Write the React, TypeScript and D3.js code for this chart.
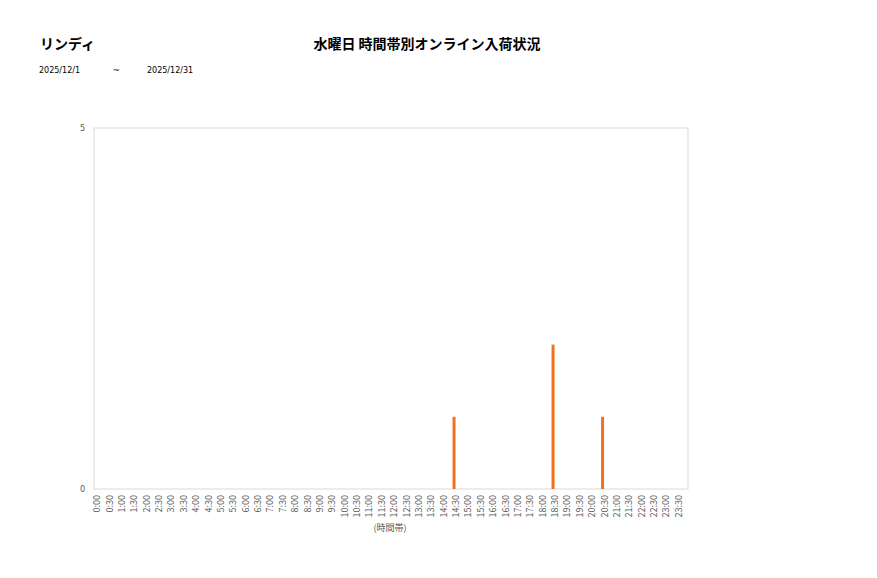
import React, { useEffect, useRef } from 'react';
import * as d3 from 'd3';

// time slots 0:00 .. 23:30
const slots: string[] = [
  '0:00', '0:30', '1:00', '1:30', '2:00', '2:30', '3:00', '3:30', '4:00', '4:30', '5:00', '5:30',
  '6:00', '6:30', '7:00', '7:30', '8:00', '8:30', '9:00', '9:30', '10:00', '10:30', '11:00', '11:30',
  '12:00', '12:30', '13:00', '13:30', '14:00', '14:30', '15:00', '15:30', '16:00', '16:30', '17:00', '17:30',
  '18:00', '18:30', '19:00', '19:30', '20:00', '20:30', '21:00', '21:30', '22:00', '22:30', '23:00', '23:30',
];

// arrivals per slot
const arrivals: number[] = [
  0, 0, 0, 0, 0, 0, 0, 0, 0, 0, 0, 0,
  0, 0, 0, 0, 0, 0, 0, 0, 0, 0, 0, 0,
  0, 0, 0, 0, 0, 1, 0, 0, 0, 0, 0, 0,
  0, 2, 0, 0, 0, 1, 0, 0, 0, 0, 0, 0,
];

const yTicks: number[] = [0, 5];

const storeName = 'リンディ';
const chartTitle = '水曜日 時間帯別オンライン入荷状況';
const dateFrom = '2025/12/1';
const dateTo = '2025/12/31';
const xAxisTitle = '(時間帯)';

const font = '"Noto Sans CJK JP", "Noto Sans", sans-serif';
const smallFont = '"DejaVu Sans", "Noto Sans", sans-serif';

const App = () => {
  const ref = useRef<SVGSVGElement>(null);

  useEffect(() => {
    draw();
  });

  const draw = () => {
    const svg = d3.select(ref.current);
    svg.selectAll('*').remove();

    const left = 94;
    const right = 688;
    const top = 128;
    const bottom = 489;

    const x = d3.scaleBand<string>().domain(slots).range([left, right]);
    const y = d3.scaleLinear().domain([0, 5]).range([bottom, top]);

    // header
    svg.append('text')
      .attr('x', 40).attr('y', 49)
      .attr('font-size', 14).attr('font-weight', 'bold').attr('font-family', font).attr('fill', '#000')
      .text(storeName);
    svg.append('text')
      .attr('x', 427).attr('y', 49)
      .attr('text-anchor', 'middle')
      .attr('font-size', 14).attr('font-weight', 'bold').attr('font-family', font).attr('fill', '#000')
      .text(chartTitle);
    svg.append('text')
      .attr('x', 39).attr('y', 73)
      .attr('font-size', 8).attr('font-family', smallFont).attr('fill', '#000')
      .text(dateFrom);
    svg.append('text')
      .attr('x', 113).attr('y', 73)
      .attr('font-size', 8).attr('font-family', smallFont).attr('fill', '#000')
      .text('~');
    svg.append('text')
      .attr('x', 147).attr('y', 73)
      .attr('font-size', 8).attr('font-family', smallFont).attr('fill', '#000')
      .text(dateTo);

    // plot frame
    svg.append('rect')
      .attr('x', left).attr('y', top)
      .attr('width', right - left).attr('height', bottom - top)
      .attr('fill', '#fff').attr('stroke', '#d9d9d9').attr('stroke-width', 1);

    // y ticks
    svg.append('g')
      .selectAll('text')
      .data(yTicks)
      .enter()
      .append('text')
      .attr('x', 85)
      .attr('y', (d) => y(d))
      .attr('dy', '0.35em')
      .attr('text-anchor', 'end')
      .attr('font-size', 8).attr('font-family', smallFont).attr('fill', '#595959')
      .text((d) => d);

    // bars
    const barW = 3;
    svg.append('g')
      .selectAll('rect')
      .data(arrivals.map((v, i) => ({ slot: slots[i], v })).filter((d) => d.v > 0))
      .enter()
      .append('rect')
      .attr('x', (d) => (x(d.slot) || 0) + x.bandwidth() / 2 - barW / 2 - 5)
      .attr('y', (d) => y(d.v))
      .attr('width', barW)
      .attr('height', (d) => bottom - y(d.v))
      .attr('fill', '#f0711e');

    // x labels
    svg.append('g')
      .selectAll('text')
      .data(slots)
      .enter()
      .append('text')
      .attr('transform', (d) => `translate(${(x(d) || 0) + x.bandwidth() / 2},${bottom + 6}) rotate(-90)`)
      .attr('text-anchor', 'end')
      .attr('font-size', 9).attr('font-family', font).attr('fill', '#595959')
      .text((d) => d);

    svg.append('text')
      .attr('x', 390).attr('y', 531)
      .attr('text-anchor', 'middle')
      .attr('font-size', 9).attr('font-family', font).attr('fill', '#595959')
      .text(xAxisTitle);
  };

  return (
    <svg
      ref={ref}
      width={877}
      height={578}
      style={{ position: 'absolute', left: 0, top: 0, background: '#fff' }}
    />
  );
};

export default App;
